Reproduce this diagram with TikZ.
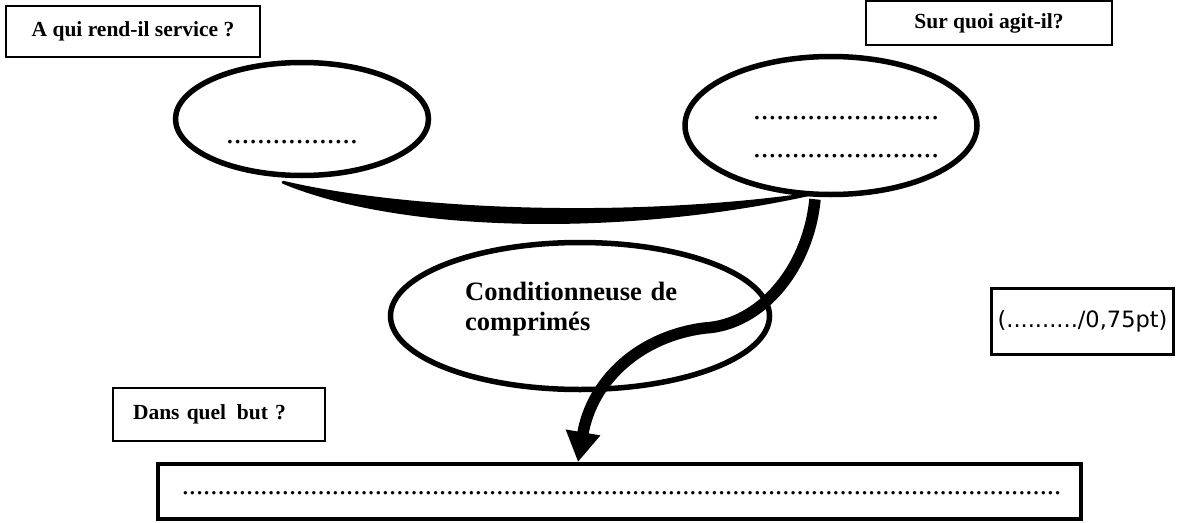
\documentclass[tikz,border=0pt]{standalone}
\usepackage{fontspec}
\setmainfont{Liberation Serif}
\newfontfamily\notefont{DejaVu Sans}
\usetikzlibrary{shapes.geometric,arrows.meta,calc}

\newcommand\pointilles[1]{\foreach \k in {1,...,#1}{.}}

\begin{document}
\begin{tikzpicture}[x=1pt, y=-1pt,
    quest/.style = {draw, line width=1.3pt, inner sep=0pt, font=\fontsize{21.5}{24}\selectfont\bfseries},
    bulle/.style = {draw, ellipse, line width=5.5pt, inner sep=0pt},
    pointille/.style = {anchor=base, inner sep=0pt, font=\fontsize{31}{34}\selectfont}]
    \useasboundingbox (0,0) rectangle (1180,522);

    % les questions
    \node[quest, minimum width=254pt, minimum height=51pt] (q_1) at (133,31.5) {A qui rend-il service ?};
    \node[quest, minimum width=246pt, minimum height=44pt] (q_2) at (989,23) {Sur quoi agit-il?};
    \node[quest, minimum width=212pt, minimum height=53pt, inner xsep=20pt, text width=172pt, align=left] (q_3) at (219,414.5) {Dans quel\ \,but ?};

    % les bulles
    \node[bulle, minimum width=253pt, minimum height=113pt] (e_1) at (302,119) {};
    \node[bulle, minimum width=292pt, minimum height=138pt] (e_2) at (831,125.5) {};
    \node[bulle, minimum width=379pt, minimum height=147pt] (e_3) at (580,316) {};
    \node[anchor=base west, inner sep=0pt, text width=230pt, align=left, font=\fontsize{26.5}{30}\selectfont\bfseries] (t_3) at (465,300) {Conditionneuse de\\comprimés};

    \node[pointille] (d_1) at (292,143) {\pointilles{17}};
    \node[pointille] (d_2) at (846,119.5) {\pointilles{24}};
    \node[pointille] (d_3) at (846,157.5) {\pointilles{24}};

    % reponse et bareme
    \node[draw, line width=4pt, minimum width=923pt, minimum height=55pt] (b_1) at (619.5,491.5) {};
    \node[pointille, font=\fontsize{28.6}{30}\selectfont] (d_4) at (621.5,494.5) {\pointilles{123}};
    \node[draw, line width=3pt, minimum width=182pt, minimum height=66pt, font=\notefont\fontsize{22.5}{26}\selectfont] (b_2) at (1082.5,321.5) {(........../0,75pt)};

    % les liaisons
    \coordinate (c_1) at ($(e_1.south)+(-19,4)$);
    \coordinate (c_2) at ($(e_2.south)+(-21,-3)$);
    \coordinate (c_3) at ($(e_2.south)+(-16,2)$);
    \filldraw[line width=3pt, line join=round, line cap=round] (c_1) .. controls (400,210) and (620,221) .. (c_2) .. controls (620,236) and (400,231) .. (c_1);
    \draw[line width=11.5pt, -{Triangle[width=33pt,length=30pt]}] (c_3) .. controls (808,270) and (760,325) .. (705,328) .. controls (640,336) and (592,380) .. ($(b_1.north)+(-41.5,0)$);
\end{tikzpicture}
\end{document}
